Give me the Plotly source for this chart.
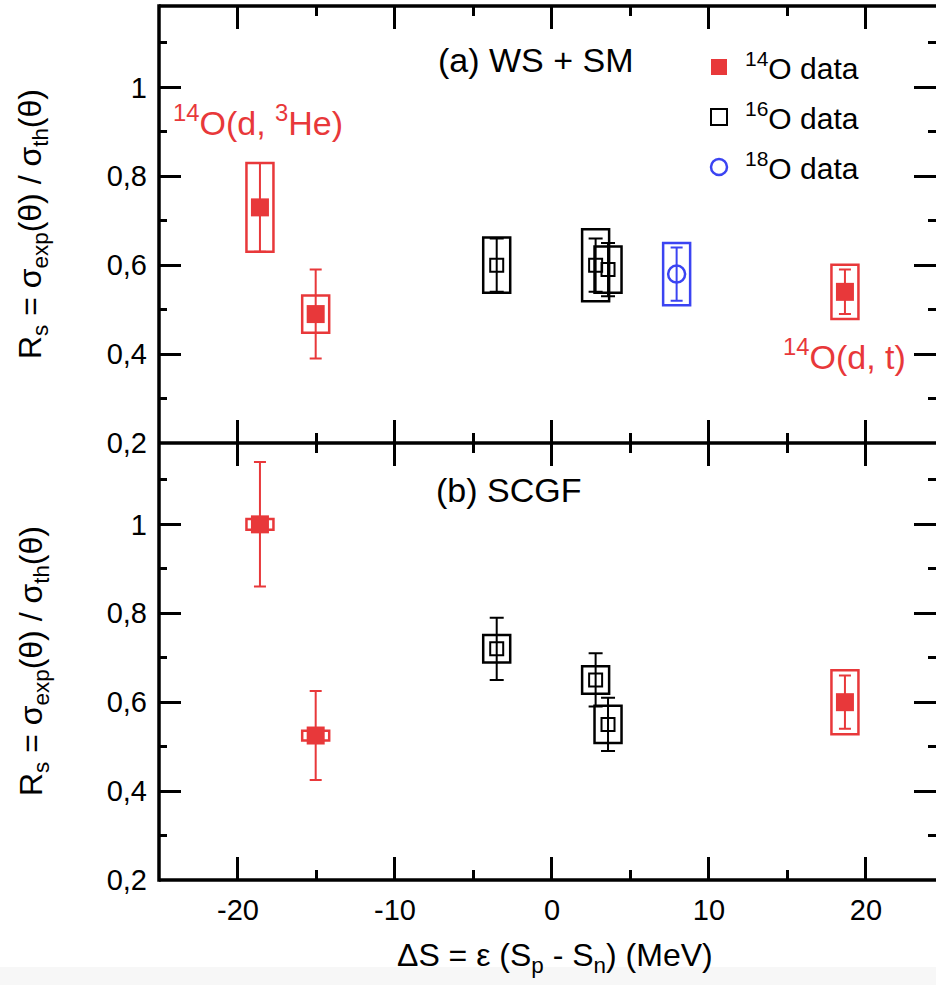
import plotly.graph_objects as go
from plotly.subplots import make_subplots

# ---------------- data ----------------
# Panel (a) WS + SM
a_o14_x = [-18.6, -15.05, 18.66]
a_o14_y = [0.73, 0.49, 0.54]
a_o14_stat = [0.10, 0.10, 0.05]
a_o14_sys = [0.10, 0.042, 0.061]

a_o16_x = [-3.52, 2.78, 3.57]
a_o16_y = [0.60, 0.60, 0.59]
a_o16_stat = [0.06, 0.06, 0.06]
a_o16_sys = [0.062, 0.081, 0.052]

a_o18_x = [7.94]
a_o18_y = [0.58]
a_o18_stat = [0.06]
a_o18_sys = [0.07]

# Panel (b) SCGF
b_o14_x = [-18.6, -15.05, 18.66]
b_o14_y = [1.00, 0.525, 0.60]
b_o14_stat = [0.14, 0.10, 0.06]
b_o14_sys = [0.012, 0.011, 0.072]

b_o16_x = [-3.52, 2.78, 3.57]
b_o16_y = [0.72, 0.65, 0.55]
b_o16_stat = [0.07, 0.06, 0.06]
b_o16_sys = [0.031, 0.031, 0.042]

y_tickvals = [0.2, 0.4, 0.6, 0.8, 1.0]
y_ticktext = ["0,2", "0,4", "0,6", "0,8", "1"]
x_tickvals = [-20, -10, 0, 10, 20]
x_ticktext = ["-20", "-10", "0", "10", "20"]

legend_names = ["<sup>14</sup>O data", "<sup>16</sup>O data", "<sup>18</sup>O data"]

# ---------------- style ----------------
RED = "#e8383a"
BLACK = "#000000"
BLUE = "#3b44f2"
FONT = "Liberation Sans"
W, H = 936, 985
L, T, B_ = 159, 6, 880
MID = 443
PW, PH = W - L, B_ - T
BOX_W = 1.72
LW = 3.5


def px2x(px):
    return (px - L) / PW


def py2y(py):
    return (B_ - py) / PH


fig = make_subplots(rows=2, cols=1, vertical_spacing=0)


def add_group(row, xs, ys, stat, sys, color, symbol, size, lw, capw):
    fig.add_trace(go.Bar(
        x=xs, y=[2 * s for s in sys], base=[y - s for y, s in zip(ys, sys)],
        width=BOX_W, marker=dict(color="rgba(0,0,0,0)", line=dict(color=color, width=2.5)),
        showlegend=False, hoverinfo="skip"), row=row, col=1)
    fig.add_trace(go.Scatter(
        x=xs, y=ys, mode="markers",
        marker=dict(symbol=symbol, size=size, color=color, line=dict(width=lw, color=color)),
        error_y=dict(type="data", array=stat, color=color, thickness=2, width=capw),
        showlegend=False), row=row, col=1)


add_group(1, a_o14_x, a_o14_y, a_o14_stat, a_o14_sys, RED, "square", 18, 0, 6)
add_group(1, a_o16_x, a_o16_y, a_o16_stat, a_o16_sys, BLACK, "square-open", 13, 2, 7)
add_group(1, a_o18_x, a_o18_y, a_o18_stat, a_o18_sys, BLUE, "circle-open", 17, 2.5, 6)
add_group(2, b_o14_x, b_o14_y, b_o14_stat, b_o14_sys, RED, "square", 18, 0, 6)
add_group(2, b_o16_x, b_o16_y, b_o16_stat, b_o16_sys, BLACK, "square-open", 13, 2, 7)

# legend-only traces
leg_styles = [("square", RED, 0), ("square-open", BLACK, 2), ("circle-open", BLUE, 2.5)]
for i, (name, (sym, col, lw)) in enumerate(zip(legend_names, leg_styles)):
    fig.add_trace(go.Scatter(
        x=[None], y=[None], mode="markers", name=name, legendgroup=f"g{i}",
        marker=dict(symbol=sym, size=16, color=col, line=dict(width=lw, color=col))),
        row=1, col=1)

xaxis_common = dict(
    range=[-25.03, 24.46], showline=False, mirror="ticks",
    ticks="inside", ticklen=23, tickwidth=2.5, tickcolor="black",
    tickvals=x_tickvals, ticktext=x_ticktext,
    minor=dict(dtick=5, tick0=0, ticks="inside", ticklen=10, tickwidth=2.5, tickcolor="black"),
    showgrid=False, zeroline=False,
    tickfont=dict(family=FONT, size=29, color="black"),
)
yaxis_common = dict(
    range=[0.2, 1.183], showline=False, mirror="ticks",
    ticks="inside", ticklen=22, tickwidth=2.5, tickcolor="black",
    tickvals=y_tickvals, ticktext=y_ticktext,
    minor=dict(dtick=0.1, tick0=0, ticks="inside", ticklen=8, tickwidth=2.5, tickcolor="black"),
    showgrid=False, zeroline=False, ticklabelstandoff=11,
    tickfont=dict(family=FONT, size=29, color="black"),
)
fig.update_xaxes(**xaxis_common)
fig.update_xaxes(showticklabels=False, row=1, col=1)
fig.update_xaxes(ticklabelstandoff=10, row=2, col=1)
fig.update_yaxes(**yaxis_common)

ytitle = "R<sub>s</sub> = σ<sub>exp</sub>(θ) / σ<sub>th</sub>(θ)"
annotations = [
    dict(text="(a) WS + SM", x=px2x(436), y=py2y(60), xanchor="left", yanchor="middle",
         font=dict(size=34, color="black")),
    dict(text="(b) SCGF", x=px2x(434), y=py2y(490), xanchor="left", yanchor="middle",
         font=dict(size=34, color="black")),
    dict(text="<sup>14</sup>O(d, <sup>3</sup>He)", x=px2x(171), y=py2y(120), xanchor="left",
         yanchor="middle", font=dict(size=34, color=RED)),
    dict(text="<sup>14</sup>O(d, t)", x=px2x(781), y=py2y(354), xanchor="left",
         yanchor="middle", font=dict(size=34, color=RED)),
    dict(text=ytitle, x=px2x(33), y=py2y(224), textangle=-90, xanchor="center",
         yanchor="middle", font=dict(size=32, color="black")),
    dict(text=ytitle, x=px2x(33), y=py2y(661), textangle=-90, xanchor="center",
         yanchor="middle", font=dict(size=32, color="black")),
    dict(text="ΔS = ε (S<sub>p</sub> - S<sub>n</sub>) (MeV)", x=px2x(555), y=py2y(957),
         xanchor="center", yanchor="middle", font=dict(size=32, color="black")),
]
for a in annotations:
    a.update(xref="paper", yref="paper", showarrow=False)

frame_line = dict(color="black", width=LW)
shapes = [
    dict(type="rect", xref="paper", yref="paper", x0=px2x(-5), x1=px2x(W + 5), y0=py2y(967), y1=py2y(H + 5),
         fillcolor="#f7f7f7", line=dict(width=0), layer="below"),
    dict(type="line", xref="paper", yref="paper", x0=px2x(L), x1=px2x(L),
         y0=py2y(B_ + LW / 2), y1=py2y(T - LW / 2), line=frame_line),
    dict(type="line", xref="paper", yref="paper", x0=px2x(L), x1=px2x(W + 5),
         y0=py2y(T), y1=py2y(T), line=frame_line),
    dict(type="line", xref="paper", yref="paper", x0=px2x(L), x1=px2x(W + 5),
         y0=py2y(MID), y1=py2y(MID), line=frame_line),
    dict(type="line", xref="paper", yref="paper", x0=px2x(L), x1=px2x(W + 5),
         y0=py2y(B_), y1=py2y(B_), line=frame_line),
]

fig.update_layout(
    width=W, height=H, margin=dict(l=L, r=0, t=T, b=H - B_, pad=0, autoexpand=False),
    paper_bgcolor="white", plot_bgcolor="white", barmode="overlay",
    font=dict(family=FONT, color="black"),
    annotations=annotations, shapes=shapes,
    showlegend=True,
    legend=dict(x=px2x(693), y=py2y(41),
                xanchor="left", yanchor="top", bgcolor="rgba(0,0,0,0)",
                font=dict(family=FONT, size=30, color="black"), tracegroupgap=8,
                itemwidth=42),
)

fig.write_html("out.html")
